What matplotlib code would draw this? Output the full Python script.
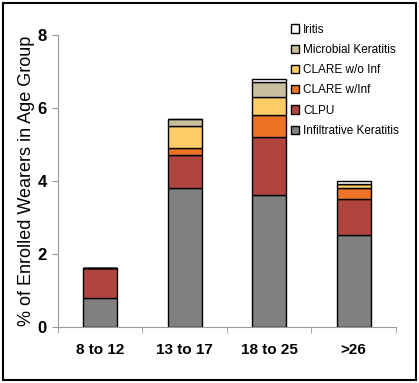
import numpy as np
import matplotlib.pyplot as plt
from matplotlib.patches import Rectangle

plt.rcParams['font.family'] = ['DejaVu Sans Condensed', 'Liberation Sans', 'DejaVu Sans']

# data
groups = ['8 to 12', '13 to 17', '18 to 25', '>26']
infiltrative = [0.8, 3.8, 3.6, 2.5]
clpu = [0.8, 0.9, 1.6, 1.0]
clare_inf = [0.0, 0.2, 0.6, 0.3]
clare_no_inf = [0.0, 0.6, 0.5, 0.1]
microbial = [0.0, 0.2, 0.4, 0.0]
iritis = [0.0, 0.0, 0.1, 0.1]

series = [
    ('Infiltrative Keratitis', infiltrative, '#808080'),
    ('CLPU', clpu, '#b0453f'),
    ('CLARE w/Inf', clare_inf, '#ec7424'),
    ('CLARE w/o Inf', clare_no_inf, '#ffcc66'),
    ('Microbial Keratitis', microbial, '#c8bf9c'),
    ('Iritis', iritis, '#ffffff'),
]

fig = plt.figure(figsize=(4.19, 3.83), dpi=100)
ax = fig.add_axes([0.138, 0.147, 0.807, 0.762])

x = np.arange(len(groups))
bottom = np.zeros(len(groups))
handles = []
for name, vals, col in series:
    vals = np.array(vals)
    b = ax.bar(x, vals, 0.4, bottom=bottom, color=col, edgecolor='black',
               linewidth=1.0, label=name)
    handles.append(b)
    bottom += vals

ax.set_xlim(-0.5, 3.5)
ax.set_ylim(0, 8)
ax.set_yticks([0, 2, 4, 6, 8])
ax.set_xticks(x)
ax.set_xticklabels(groups, fontsize=11, fontweight='bold')
ax.set_xticks(np.arange(-0.5, 4.0, 1.0), minor=True)
ax.tick_params(axis='x', which='major', length=0, pad=12)
ax.tick_params(axis='x', which='minor', length=4, color='#999999', direction='out')
ax.tick_params(axis='y', length=4, color='#999999', labelsize=12, pad=4)
for lab in ax.get_yticklabels():
    lab.set_fontweight('bold')
for s in ['top', 'right']:
    ax.spines[s].set_visible(False)
for s in ['left', 'bottom']:
    ax.spines[s].set_color('#999999')
ax.set_ylabel('% of Enrolled Wearers in Age Group', fontsize=13,
              family=['Liberation Sans', 'DejaVu Sans'], labelpad=2)

leg = ax.legend(handles[::-1], [s[0] for s in series][::-1], loc='upper right',
                bbox_to_anchor=(1.04, 1.075), frameon=False, fontsize=8.5,
                handlelength=0.7, handleheight=0.7, handletextpad=0.3,
                labelspacing=0.7)

fig.patches.append(Rectangle((0.006, 0.008), 0.986, 0.984, transform=fig.transFigure,
                             fill=False, edgecolor='black', linewidth=1.5))

fig.savefig('out.png', dpi=100)
